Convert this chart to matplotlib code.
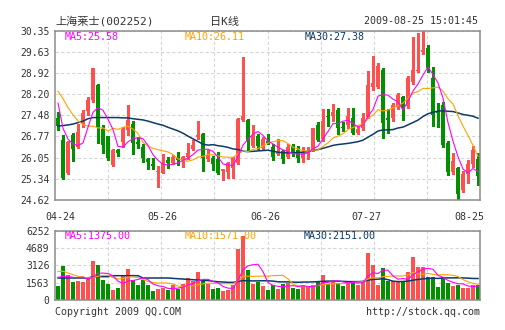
"""日K线 上海莱士(002252) - QQ stock style candlestick chart."""
import matplotlib

matplotlib.use("Agg")
import numpy as np
import pandas as pd
from matplotlib import pyplot as plt

# ---- data ----
date_labels = ["04-24", "05-26", "06-26", "07-27", "08-25"]
price_ticks = ["24.62", "25.34", "26.05", "26.77", "27.48", "28.20", "28.92", "29.63", "30.35"]
vol_ticks = ["0", "1563", "3126", "4689", "6252"]

opens = [27.41, 26.66, 25.53, 26.83, 26.40, 27.23, 27.64, 28.01, 28.52, 27.02,
         26.77, 25.82, 26.32, 26.58, 26.98, 27.19, 26.58, 26.43, 26.01, 25.85,
         25.56, 25.55, 25.96, 25.88, 26.06, 25.97, 26.07, 26.35, 26.74, 26.85,
         26.02, 26.04, 26.01, 25.59, 25.56, 25.70, 25.87, 27.34, 27.32, 26.45,
         26.79, 26.37, 26.63, 26.43, 26.17, 26.28, 26.09, 26.45, 26.31, 26.05,
         26.20, 26.31, 27.16, 26.68, 27.46, 27.45, 27.68, 27.08, 27.15, 27.39,
         26.89, 27.06, 27.42, 28.43, 28.46, 29.02, 27.40, 27.40, 27.79, 28.09,
         27.79, 28.60, 29.00, 29.62, 29.76, 28.75, 27.63, 27.85, 26.55, 25.57,
         25.70, 24.97, 25.51, 25.84, 26.01]
highs = [27.61, 26.82, 26.60, 26.88, 27.19, 27.67, 28.10, 29.10, 28.55, 27.15,
         26.80, 26.35, 26.34, 27.10, 27.85, 27.30, 26.76, 26.50, 26.05, 26.03,
         25.76, 26.18, 26.08, 26.15, 26.26, 26.10, 26.55, 26.65, 27.30, 26.88,
         26.30, 26.10, 26.25, 25.68, 25.90, 26.06, 27.40, 29.45, 27.35, 27.16,
         26.85, 26.75, 26.85, 26.50, 26.67, 26.30, 26.50, 26.52, 26.45, 26.40,
         26.40, 27.05, 27.25, 27.70, 27.71, 27.87, 27.75, 27.25, 27.72, 27.72,
         27.10, 27.56, 28.97, 29.48, 29.25, 29.10, 27.70, 27.90, 28.25, 28.15,
         28.80, 30.12, 30.27, 30.35, 29.85, 29.11, 27.91, 27.95, 26.60, 26.20,
         25.75, 25.60, 25.98, 26.44, 26.21]
lows = [26.99, 25.32, 25.50, 25.95, 26.38, 27.10, 27.50, 27.95, 26.56, 26.22,
        25.98, 25.78, 26.12, 26.43, 26.82, 26.18, 26.38, 25.92, 25.67, 25.66,
        25.07, 25.53, 25.70, 25.85, 25.81, 25.75, 26.00, 26.30, 26.70, 25.59,
        25.95, 25.65, 25.51, 25.30, 25.36, 25.36, 25.85, 27.30, 26.27, 26.40,
        26.35, 26.30, 26.50, 25.97, 26.15, 25.87, 26.05, 26.10, 25.90, 25.90,
        26.00, 26.28, 26.60, 26.60, 27.11, 27.30, 26.85, 26.95, 27.05, 26.85,
        26.85, 27.00, 27.38, 28.35, 28.40, 26.73, 26.90, 27.30, 27.70, 27.34,
        27.75, 28.55, 28.95, 29.55, 28.95, 27.11, 27.10, 26.40, 25.45, 25.50,
        24.63, 24.88, 25.20, 25.75, 25.14]
closes = [27.13, 25.36, 26.57, 26.33, 26.92, 27.58, 28.02, 29.09, 27.10, 26.49,
          26.04, 26.32, 26.21, 27.03, 27.34, 26.55, 26.52, 26.04, 25.89, 25.76,
          25.61, 25.87, 25.87, 26.06, 25.97, 26.06, 26.21, 26.49, 26.83, 26.04,
          26.13, 25.84, 25.53, 25.66, 25.87, 26.04, 27.36, 27.47, 26.61, 26.80,
          26.45, 26.70, 26.54, 26.09, 26.25, 26.01, 26.40, 26.20, 26.03, 26.22,
          26.26, 27.05, 26.65, 27.31, 27.42, 27.60, 27.06, 27.05, 27.45, 26.89,
          27.02, 27.39, 28.52, 28.59, 29.16, 27.24, 27.33, 27.84, 28.18, 27.73,
          28.75, 29.03, 29.03, 29.71, 29.09, 27.48, 27.58, 26.49, 25.57, 25.95,
          24.83, 25.51, 25.84, 26.30, 25.44]
volumes = [1293, 3097, 2285, 1624, 1744, 1624, 1985, 3518, 3187, 1834,
           1443, 932, 1082, 2225, 2797, 1774, 1383, 1834, 1383, 842,
           992, 1082, 932, 1323, 1022, 1443, 1985, 1684, 2496, 1684,
           1473, 1022, 1082, 842, 932, 1383, 4600, 5804, 2706, 1443,
           1594, 1233, 932, 1383, 1022, 1443, 1533, 1082, 1022, 1323,
           1143, 1383, 1744, 2225, 1443, 1744, 1533, 1233, 1744, 1744,
           1383, 1744, 4240, 3187, 1383, 2887, 1744, 1684, 1684, 1684,
           2496, 3849, 2947, 2947, 2045, 2045, 1143, 2045, 1533, 1233,
           1383, 1082, 1082, 1323, 1383]

# moving-average values before enough history is in the window
ma5_head = [27.90, 27.05, 26.68, 26.52]
ma10_head = [28.30, 28.05, 27.75, 27.50, 27.30, 27.17, 27.12, 27.12, 27.06]
ma30_head = [27.12, 27.14, 27.16, 27.19, 27.24, 27.29, 27.37, 27.41, 27.41, 27.41,
             27.41, 27.41, 27.41, 27.40, 27.40, 27.37, 27.35, 27.33, 27.29, 27.24,
             27.19, 27.15, 27.08, 27.02, 26.96, 26.88, 26.78, 26.69, 26.60]
vma5_head = [2045, 2135, 2135, 2045]
vma10_head = [2586, 2586, 2436, 2285, 2135, 2075, 1985, 2045, 2135]
vma30_head = [1985, 1985, 1985, 1985, 1985, 1985, 1985, 2105, 2105, 2105,
              2105, 2195, 2195, 2195, 2195, 2195, 2195, 1985, 1985, 1985,
              1985, 1985, 1985, 1950, 1920, 1890, 1860, 1830, 1800]

RED, GREEN = "#ff5050", "#009000"
C5, C10, C30 = "#ff00ff", "#ffa200", "#0a3a6a"
INK, GRID, FRAME = "#333333", "#d6d6d6", "#8c8c8c"

plt.rcParams["font.family"] = ["DejaVu Sans Mono", "Noto Sans CJK SC"]
plt.rcParams["font.size"] = 7


def moving(vals, window, head):
    m = pd.Series(vals, dtype=float).rolling(window).mean().to_numpy()
    m[:len(head)] = head
    return m


W, H = 505, 330
fig = plt.figure(figsize=(W / 100, H / 100), dpi=100, facecolor="white")


def panel(left, top, right, bottom):
    return fig.add_axes([left / W, 1 - bottom / H, (right - left) / W, (bottom - top) / H])


def ftext(px, py, s, **kw):
    fig.text(px / W, 1 - py / H, s, va="center", **kw)


ax = panel(55, 30.7, 480, 200)
axv = panel(55, 230.7, 480, 300)

o, h, l, c = map(np.asarray, (opens, highs, lows, closes))
n = len(c)
x = np.arange(n)
cols = np.where(c >= o, RED, GREEN)

# candles sit one pixel left of slot centre, as in the original bitmap
x0 = -0.6
ngrid = 8
for a in (ax, axv):
    a.set_xlim(x0, x0 + n)
    a.set_xticks(x0 + np.arange(1, ngrid) * n / ngrid)
    a.set_xticklabels([])
    a.grid(True, color=GRID, lw=0.8, ls=(0, (3, 2)))
    a.set_axisbelow(True)
    for s in a.spines.values():
        s.set_color(FRAME)
        s.set_linewidth(1.1)
    a.tick_params(length=0, pad=4, labelsize=7, labelcolor=INK)

# price panel
pt = [float(t) for t in price_ticks]
ax.set_ylim(pt[0], pt[-1])
ax.set_yticks(pt)
ax.set_yticklabels(price_ticks)
ax.vlines(x, l, h, colors=cols, lw=0.75, zorder=2, antialiased=False)
ax.bar(x, np.maximum(np.abs(c - o), 0.015), bottom=np.minimum(o, c), width=0.8,
       color=cols, lw=0, zorder=2, antialiased=False)
ax.plot(x, moving(closes, 30, ma30_head), color=C30, lw=1.1, zorder=3)
ax.plot(x, moving(closes, 10, ma10_head), color=C10, lw=0.8, zorder=3)
ax.plot(x, moving(closes, 5, ma5_head), color=C5, lw=0.8, zorder=3)

# volume panel
vt = [float(t) for t in vol_ticks]
axv.set_ylim(vt[0], vt[-1])
axv.set_yticks(vt)
axv.set_yticklabels(vol_ticks)
axv.bar(x, volumes, width=0.8, color=cols, lw=0, zorder=2, antialiased=False)
axv.plot(x, moving(volumes, 30, vma30_head), color=C30, lw=1.1, zorder=3)
axv.plot(x, moving(volumes, 10, vma10_head), color=C10, lw=0.8, zorder=3)
axv.plot(x, moving(volumes, 5, vma5_head), color=C5, lw=0.8, zorder=3)

# texts
ftext(55, 21.5, "上海莱士(002252)", ha="left", color=INK, fontsize=8)
ftext(225, 21.5, "日K线", ha="center", color=INK, fontsize=8)
ftext(478, 21.5, "2009-08-25 15:01:45", ha="right", color=INK, fontsize=7.2)
for px, lab in zip([60, 162, 265, 366, 469], date_labels):
    ftext(px, 216.5, lab, ha="center", color=INK, fontsize=7.2)
ftext(65, 36.5, "MA5:25.58", ha="left", color=C5, fontsize=7.2)
ftext(185, 36.5, "MA10:26.11", ha="left", color=C10, fontsize=7.2)
ftext(305, 36.5, "MA30:27.38", ha="left", color=C30, fontsize=7.2)
ftext(65, 236.3, "MA5:1375.00", ha="left", color=C5, fontsize=7.2)
ftext(185, 236.3, "MA10:1571.00", ha="left", color=C10, fontsize=7.2)
ftext(304, 236.3, "MA30:2151.00", ha="left", color=C30, fontsize=7.2)
ftext(55, 311.7, "Copyright 2009 QQ.COM", ha="left", color=INK, fontsize=7.2)
ftext(480, 311.7, "http://stock.qq.com", ha="right", color=INK, fontsize=7.2)

fig.savefig("out.png", dpi=100, facecolor="white")
